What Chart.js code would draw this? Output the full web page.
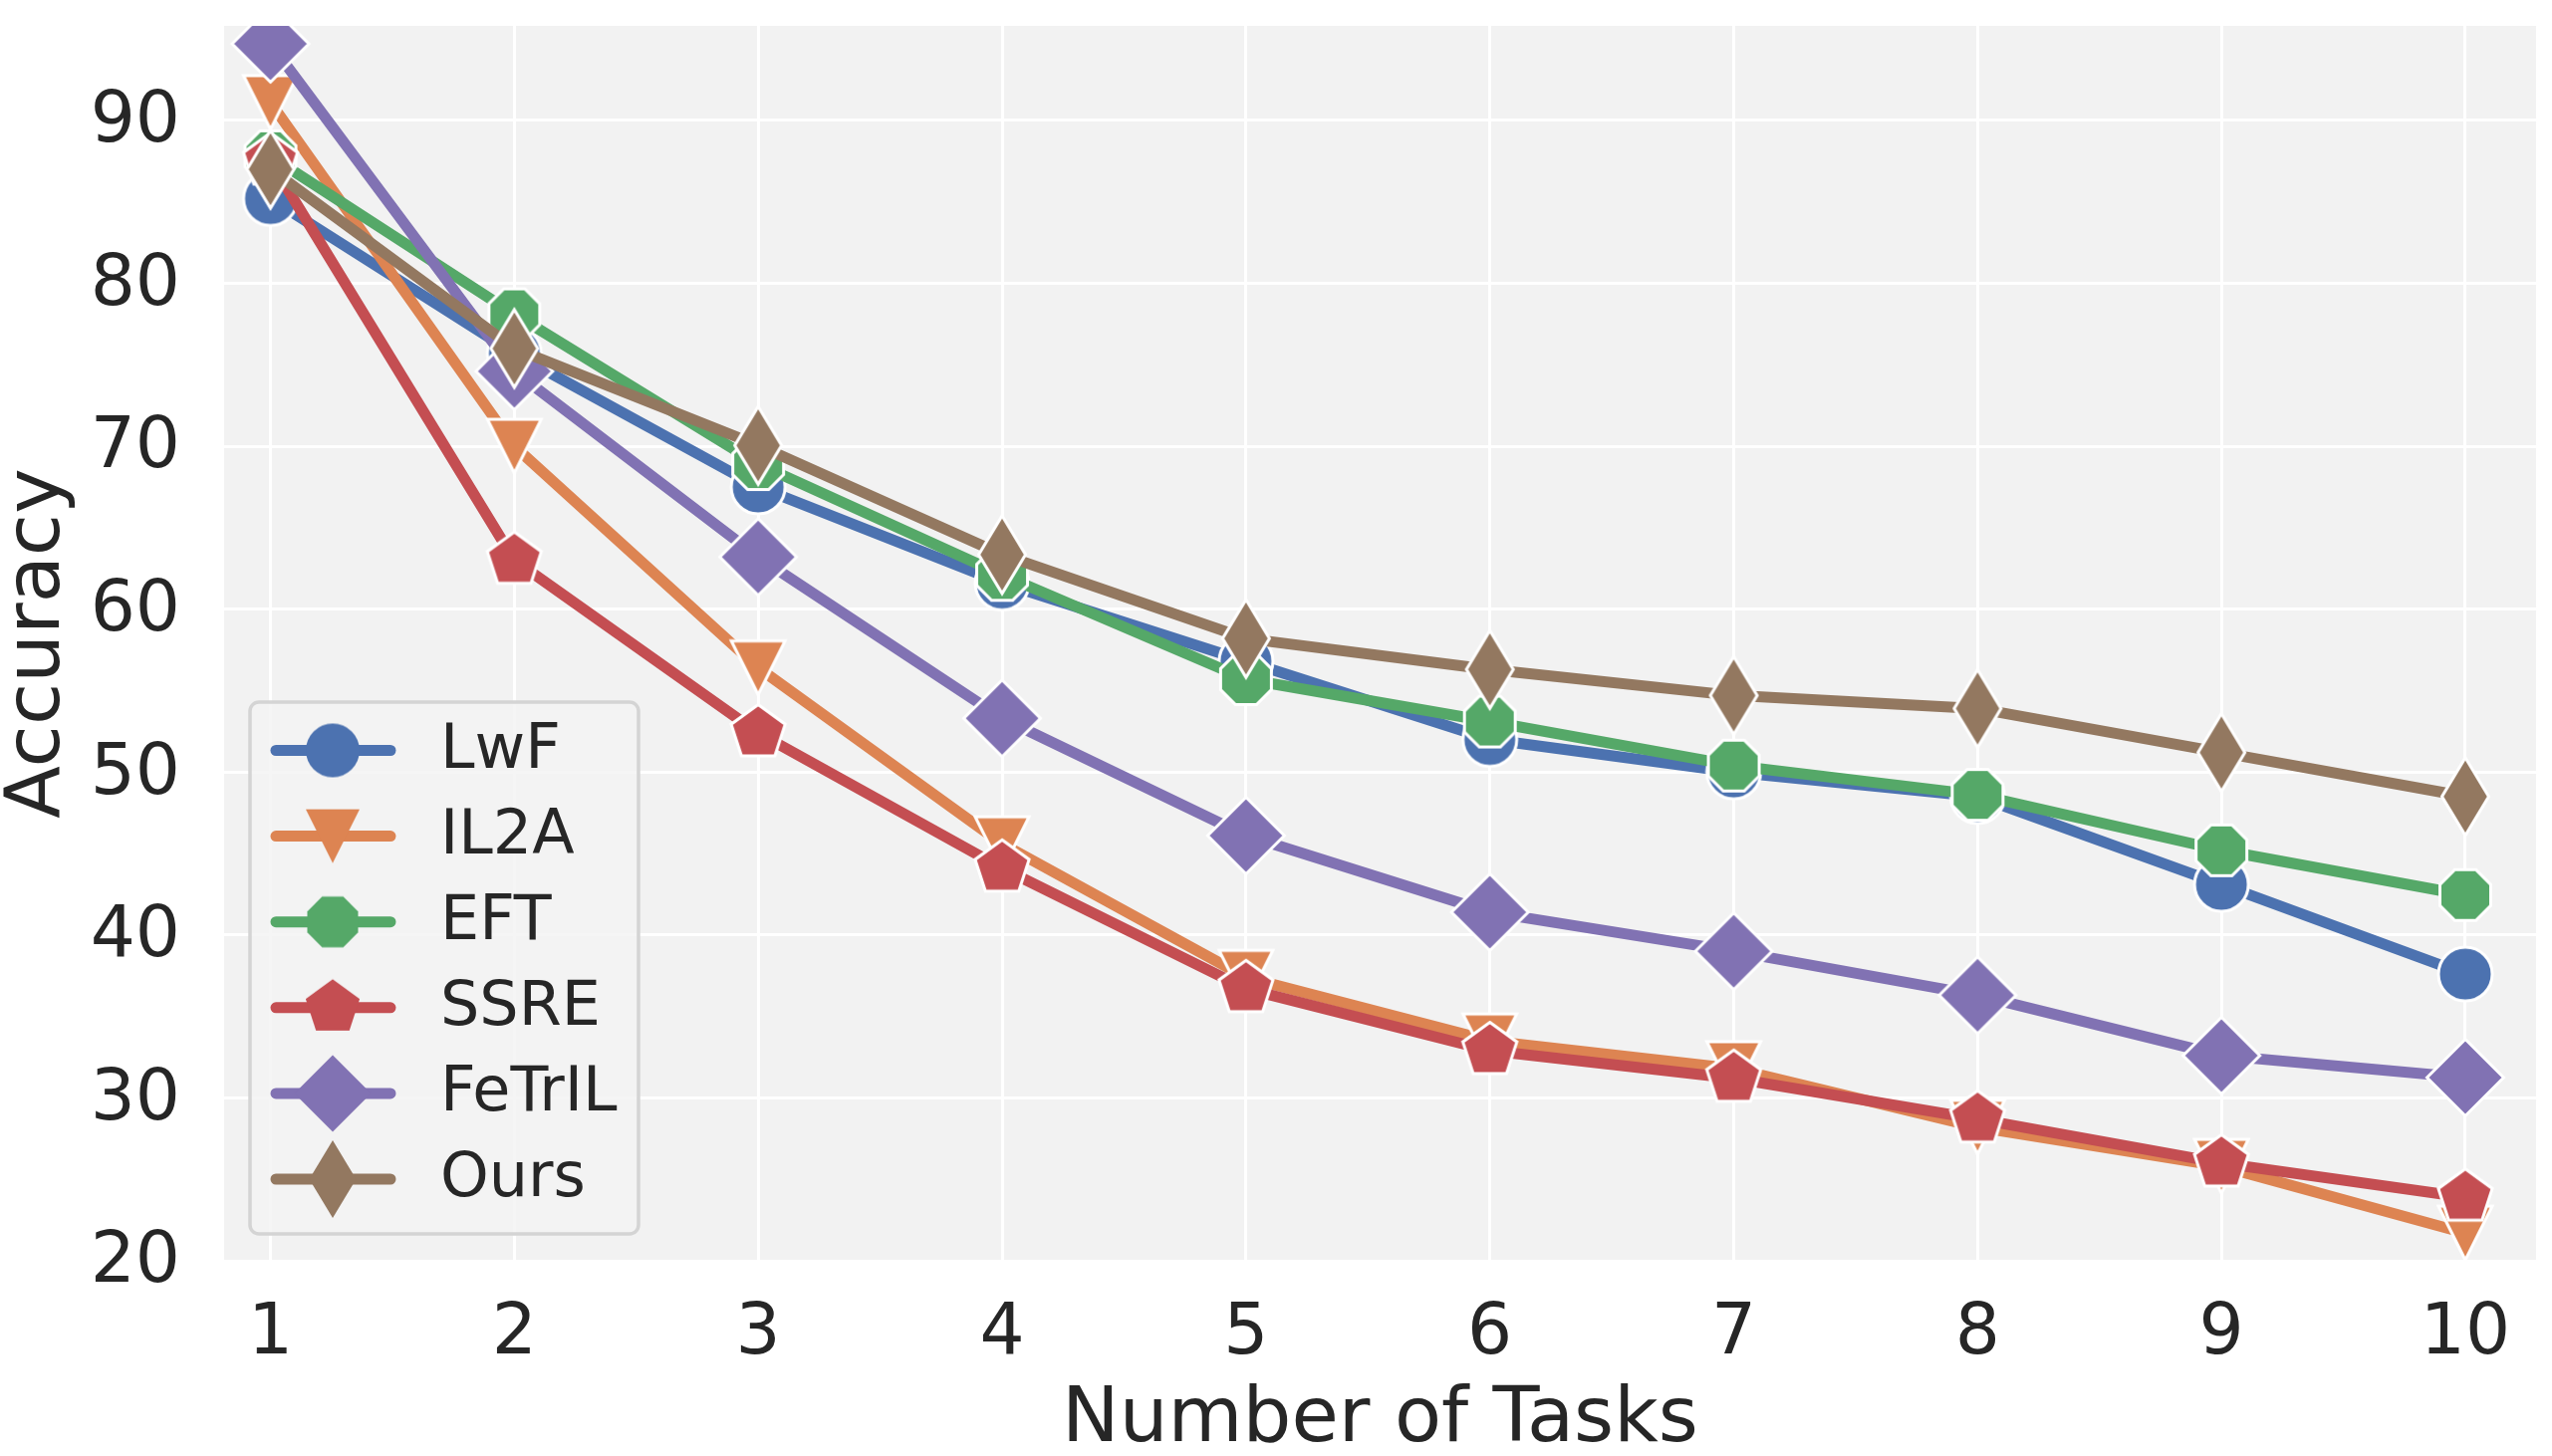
<!DOCTYPE html>
<html><head><meta charset="utf-8">
<script src="https://cdn.jsdelivr.net/npm/chart.js@4.4.1/dist/chart.umd.min.js"></script>
<style>html,body{margin:0;padding:0;background:#fff;overflow:hidden}canvas{display:block}</style>
</head><body>
<canvas id="c" width="2562" height="1462" style="width:2562px;height:1462px"></canvas>
<script>
// ---- data ----
const tasks = [1, 2, 3, 4, 5, 6, 7, 8, 9, 10];
const seriesNames = ['LwF', 'IL2A', 'EFT', 'SSRE', 'FeTrIL', 'Ours'];
const lwf    = [85.2, 75.7, 67.5, 61.6, 56.8, 52.0, 50.0, 48.5, 43.1, 37.6];
const il2a   = [91.1, 70.0, 56.4, 45.6, 37.4, 33.5, 31.8, 28.2, 25.8, 21.7];
const eft    = [87.8, 78.1, 68.9, 62.1, 55.7, 53.1, 50.4, 48.6, 45.2, 42.45];
const ssre   = [87.5, 63.0, 52.4, 44.1, 36.7, 32.9, 31.2, 28.7, 26.0, 23.9];
const fetril = [94.7, 74.6, 63.2, 53.3, 46.1, 41.4, 39.0, 36.3, 32.6, 31.25];
const ours   = [87.0, 76.0, 70.05, 63.35, 58.2, 56.3, 54.7, 53.9, 51.2, 48.5];
const yTicks = [20, 30, 40, 50, 60, 70, 80, 90];
const xTicks = [1, 2, 3, 4, 5, 6, 7, 8, 9, 10];
const xLabel = 'Number of Tasks';
const yLabel = 'Accuracy';

// ---- styles ----
const colors = ['#4C72B0', '#DD8452', '#55A868', '#C44E52', '#8172B3', '#937860'];
const shapes = ['circle', 'triDown', 'octagon', 'pentagon', 'diamond', 'thinDiamond'];
const allValues = [lwf, il2a, eft, ssre, fetril, ours];
const FONT = "'DejaVu Sans', 'Liberation Sans', sans-serif";
const TEXT = '#262626';

function makeMarker(shape, color, edge) {
  const S = 100;
  const c = document.createElement('canvas');
  c.width = S; c.height = S;
  const g = c.getContext('2d');
  g.translate(S / 2, S / 2);
  g.beginPath();
  if (shape === 'circle') {
    g.arc(0, 0, 27, 0, Math.PI * 2);
  } else if (shape === 'triDown') {
    g.moveTo(0, 27); g.lineTo(-27, -27); g.lineTo(27, -27);
  } else if (shape === 'octagon') {
    const R = 27.6;
    for (let k = 0; k < 8; k++) {
      const a = Math.PI / 8 + k * Math.PI / 4;
      if (k === 0) g.moveTo(R * Math.cos(a), R * Math.sin(a)); else g.lineTo(R * Math.cos(a), R * Math.sin(a));
    }
  } else if (shape === 'pentagon') {
    const R = 28.5;
    for (let k = 0; k < 5; k++) {
      const a = -Math.PI / 2 + k * 2 * Math.PI / 5;
      if (k === 0) g.moveTo(R * Math.cos(a), R * Math.sin(a)); else g.lineTo(R * Math.cos(a), R * Math.sin(a));
    }
  } else if (shape === 'diamond') {
    const h = 38.5;
    g.moveTo(0, -h); g.lineTo(h, 0); g.lineTo(0, h); g.lineTo(-h, 0);
  } else if (shape === 'thinDiamond') {
    g.moveTo(0, -39); g.lineTo(23.5, 0); g.lineTo(0, 39); g.lineTo(-23.5, 0);
  }
  g.closePath();
  g.fillStyle = color;
  g.fill();
  if (edge) {
    g.lineWidth = 3;
    g.strokeStyle = '#ffffff';
    g.lineJoin = 'miter';
    g.stroke();
  }
  return c;
}

const plotMarkers = shapes.map((s, i) => makeMarker(s, colors[i], true));
const legendMarkers = shapes.map((s, i) => makeMarker(s, colors[i], false));

const datasets = allValues.map((vals, i) => ({
  label: seriesNames[i],
  data: tasks.map((t, j) => ({ x: t, y: vals[j] })),
  borderColor: colors[i],
  backgroundColor: colors[i],
  borderWidth: 11,
  borderCapStyle: 'round',
  borderJoinStyle: 'round',
  tension: 0,
  pointStyle: plotMarkers[i],
  pointRadius: 30,
  pointHoverRadius: 30,
  pointBorderWidth: 0,
  clip: 0,
  order: allValues.length - i
}));

const bgPlugin = {
  id: 'bg',
  beforeDraw(chart) {
    const { ctx, chartArea: a } = chart;
    ctx.save();
    ctx.fillStyle = '#ffffff';
    ctx.fillRect(0, 0, chart.width, chart.height);
    ctx.fillStyle = '#f2f2f2';
    ctx.fillRect(a.left, a.top, a.right - a.left, a.bottom - a.top);
    ctx.restore();
  }
};

const legendPlugin = {
  id: 'sbLegend',
  afterDraw(chart) {
    const ctx = chart.ctx;
    ctx.save();
    ctx.beginPath();
    ctx.roundRect(251, 705, 390, 534, 9);
    ctx.fillStyle = 'rgba(242,242,242,0.8)';
    ctx.fill();
    ctx.lineWidth = 3.5;
    ctx.strokeStyle = '#d4d4d4';
    ctx.stroke();
    chart.data.datasets.forEach((ds, i) => {
      const cy = 753.5 + i * 86.1;
      ctx.beginPath();
      ctx.moveTo(277, cy);
      ctx.lineTo(392, cy);
      ctx.lineWidth = ds.borderWidth;
      ctx.lineCap = 'round';
      ctx.strokeStyle = ds.borderColor;
      ctx.stroke();
      const m = legendMarkers[i];
      ctx.drawImage(m, 334 - m.width / 2, cy - m.height / 2);
      ctx.fillStyle = TEXT;
      ctx.font = "62px " + FONT;
      ctx.textBaseline = 'middle';
      ctx.textAlign = 'left';
      ctx.fillText(ds.label, 442, cy + 1);
    });
    ctx.restore();
  }
};

function noPad(s) {
  s.paddingTop = 0; s.paddingBottom = 0; s.paddingLeft = 0; s.paddingRight = 0;
}

new Chart(document.getElementById('c'), {
  type: 'line',
  data: { datasets },
  plugins: [bgPlugin, legendPlugin],
  options: {
    responsive: false,
    devicePixelRatio: 1,
    animation: false,
    events: [],
    layout: { autoPadding: false, padding: { left: 0, right: 16, top: 26, bottom: 0 } },
    plugins: { legend: { display: false }, tooltip: { enabled: false } },
    scales: {
      x: {
        type: 'linear',
        min: 0.81, max: 10.29,
        afterBuildTicks: s => { s.ticks = xTicks.map(v => ({ value: v })); },
        afterFit: s => { s.height = 196; noPad(s); },
        grid: { color: '#ffffff', lineWidth: 3, drawTicks: false },
        border: { display: false },
        ticks: { font: { family: FONT, size: 71, lineHeight: 1 }, color: TEXT, padding: 39, maxRotation: 0, autoSkip: false },
        title: { display: true, text: xLabel, color: TEXT, font: { family: FONT, size: 77, lineHeight: 1 }, padding: { top: 0, bottom: -3 } }
      },
      y: {
        type: 'linear',
        min: 20, max: 95.8,
        afterBuildTicks: s => { s.ticks = yTicks.map(v => ({ value: v })); },
        afterFit: s => { s.width = 225; noPad(s); },
        grid: { color: '#ffffff', lineWidth: 3, drawTicks: false },
        border: { display: false },
        ticks: { font: { family: FONT, size: 71, lineHeight: 1 }, color: TEXT, padding: 44, labelOffset: 3 },
        title: { display: true, text: yLabel, color: TEXT, font: { family: FONT, size: 77, lineHeight: 1 }, padding: { top: 0, bottom: 0 } }
      }
    }
  }
});
</script>
</body></html>
